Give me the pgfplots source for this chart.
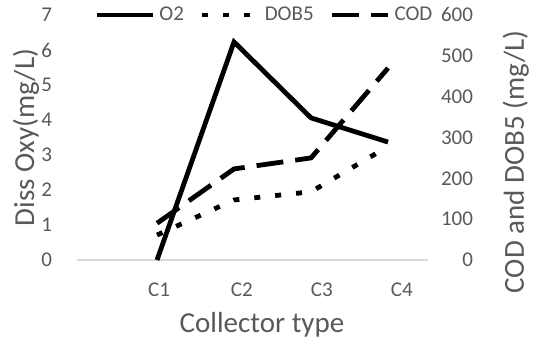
\documentclass[border=0pt]{standalone}
\usepackage{fontspec}
\setmainfont{Carlito}
\usepackage{pgfplots}
\pgfplotsset{compat=1.18}
\definecolor{txt}{HTML}{595959}
\definecolor{axl}{HTML}{D9D9D9}
\begin{document}
\begin{tikzpicture}
\pgfplotsset{
  base/.style={
    scale only axis, width=175.5pt, height=122.5pt,
    xmin=-0.039, xmax=4.519, ymin=0,
    /pgf/number format/assume math mode=true,
    tick label style={font=\fontsize{10.5}{12}\selectfont, text=txt},
    label style={font=\fontsize{14.5}{16}\selectfont, text=txt},
    major tick length=0pt,
    clip=false,
  },
  o2/.style={black, line width=2.4pt},
  dob/.style={black, line width=2.4pt, dash pattern=on 3pt off 7.5pt},
  cod/.style={black, line width=2.4pt, dash pattern=on 13.5pt off 6pt},
}
\begin{axis}[base,
  ymax=7, ytick={0,1,...,7},
  axis x line=bottom, axis y line=left,
  x axis line style={axl, line width=0.6pt, -},
  y axis line style={draw=none},
  xtick={1.026,2.10,3.14,4.18}, xticklabels={C1,C2,C3,C4},
  xticklabel style={yshift=-8pt},
  yticklabel style={xshift=-9pt},
  xlabel={Collector type},
  xlabel style={at={(axis description cs:0.527,-0.265)}, anchor=center},
  ylabel={Diss Oxy(mg/L)},
  ylabel style={at={(axis description cs:-0.145,0.5)}, anchor=center},
  legend columns=3,
  legend style={draw=none, fill=none, at={(axis description cs:0.537,1.0)}, anchor=center,
    font=\fontsize{10.5}{12}\selectfont, text=txt,
    /tikz/every even column/.append style={column sep=6pt},
    /tikz/every odd column/.append style={column sep=0pt}},
  legend image code/.code={\draw[#1] (0pt,0pt) -- (28pt,0pt);},
]
\addplot[o2] coordinates {(1,0) (2,6.23) (3,4.06) (4,3.37)};
\addlegendentry{O2}
\addlegendimage{dob}
\addlegendentry{DOB5}
\addlegendimage{cod}
\addlegendentry{COD}
\coordinate (bl) at (rel axis cs:-0.2194,-0.3837);
\coordinate (tr) at (rel axis cs:1.3219,1.0612);
\end{axis}
\begin{axis}[base,
  ymax=600, ytick={0,100,...,600},
  axis x line=none, axis y line*=right,
  y axis line style={draw=none},
  yticklabel style={anchor=east, xshift=26pt},
  ylabel={COD and DOB5 (mg/L)},
  ylabel style={at={(axis description cs:1.25,0.4)}, anchor=center},
]
\addplot[dob] coordinates {(1,61) (2,147) (3,167) (4,278)};
\addplot[cod] coordinates {(1,90) (2,223) (3,250) (4,470)};
\end{axis}
\pgfresetboundingbox
\useasboundingbox (bl) rectangle (tr);
\end{tikzpicture}
\end{document}
